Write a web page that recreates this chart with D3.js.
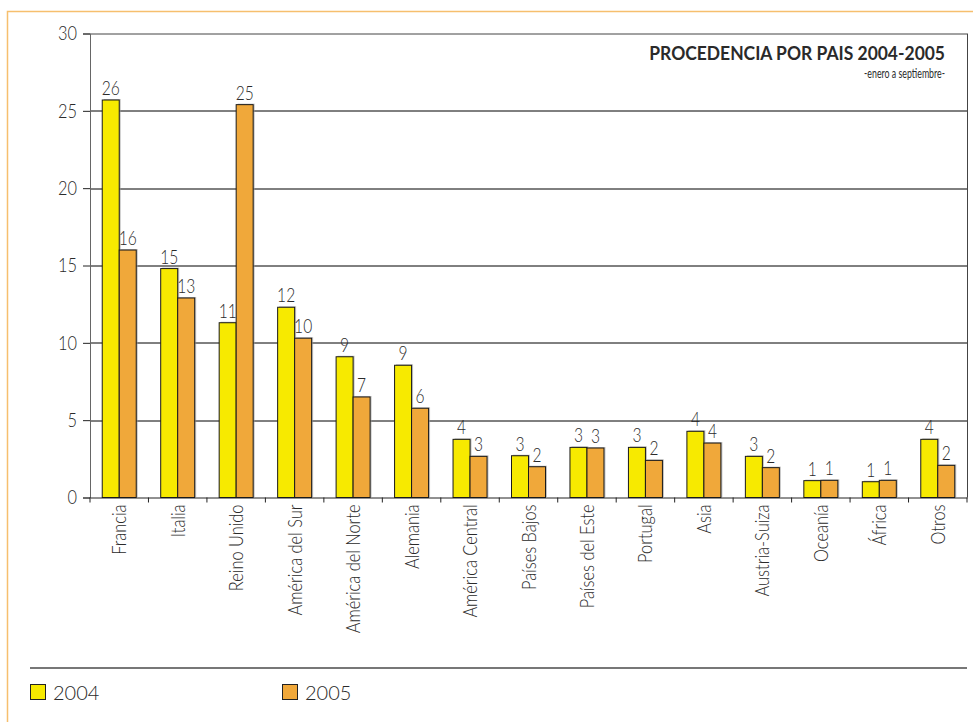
<!DOCTYPE html>
<html>
<head>
<meta charset="utf-8">
<title>Procedencia por país 2004-2005</title>
<script src="https://cdn.jsdelivr.net/npm/d3@7"></script>
<style>
  body { margin: 0; background: #ffffff; }
  text { font-family: Lato, "Open Sans", sans-serif; font-weight: 300; fill: #2a2a2a; }
</style>
</head>
<body>
<div id="chart"></div>
<script>
/** Chart data */
var categories = ["Francia", "Italia", "Reino Unido", "América del Sur", "América del Norte", "Alemania",
  "América Central", "Países Bajos", "Países del Este", "Portugal", "Asia", "Austria-Suiza",
  "Oceanía", "África", "Otros"];
var years = ["2004", "2005"];
var values2004 = [25.7, 14.8, 11.3, 12.3, 9.1, 8.55, 3.76, 2.7, 3.24, 3.24, 4.28, 2.66, 1.09, 1.02, 3.76];
var values2005 = [16.0, 12.9, 25.4, 10.3, 6.5, 5.77, 2.66, 1.99, 3.2, 2.4, 3.52, 1.93, 1.11, 1.11, 2.08];
var yTicks = [0, 5, 10, 15, 20, 25, 30];
var seriesColors = ["#f7ea00", "#f0a83a"];
var titleText = "PROCEDENCIA POR PAIS 2004-2005";
var subtitleText = "-enero a septiembre-";

/** horizontal squeeze used to mimic the condensed face of the original */
var SQUEEZE = 0.82;

/**
 * @desc Squeezes text along its writing direction, keeping its anchor point.
 * @param {Object} sel d3 selection of text nodes.
 * @param {String} rotation optional rotation applied before the squeeze.
 */
function condense(sel, rotation)
{
  sel.each(function()
  {
    var t = d3.select(this);
    var x = +t.attr("x") || 0;
    t.attr("x", x / SQUEEZE)
      .attr("transform", (rotation || "") + " scale(" + SQUEEZE + ",1)");
  });
}

/**
 * @constructor
 * @param {String} HTMLelement id of the element to build the chart in.
 */
var groupedBarChart = function(HTMLelement)
{
  this.parentElement = HTMLelement;
  this.svg = this.g = this.x0 = this.x1 = this.y = undefined;
  this.width = 973;
  this.height = 722;
  this.margin = {top: 33.5, right: 6, bottom: 224.5, left: 90};
}

/**
 * @desc Builds the svg, the outer frame and the scales.
 */
groupedBarChart.prototype.create = function()
{
  this.svg = d3.select("#" + this.parentElement)
    .append("svg")
    .attr("width", this.width)
    .attr("height", this.height);

  /** Light orange frame around the whole figure */
  this.svg.append("rect")
    .attr("x", 7.5)
    .attr("y", 11.5)
    .attr("width", 1000)
    .attr("height", 1000)
    .attr("fill", "none")
    .attr("stroke", "#f6bf6e")
    .attr("stroke-width", 1.5);

  this.innerW = this.width - this.margin.left - this.margin.right;
  this.innerH = this.height - this.margin.top - this.margin.bottom;

  this.x0 = d3.scaleBand().domain(categories).range([0, this.innerW]).padding(0);
  this.x1 = d3.scaleBand().domain(years).range([0, this.x0.bandwidth()]).paddingInner(0).paddingOuter(0.72);
  this.y = d3.scaleLinear().domain([0, 30]).range([this.innerH, 0]);

  this.g = this.svg.append("g")
    .attr("transform", "translate(" + this.margin.left + "," + this.margin.top + ")");
}

/**
 * @desc Draws grid, axes and the plot border.
 */
groupedBarChart.prototype.drawAxes = function()
{
  var scope = this;

  /** Horizontal grid lines */
  this.g.append("g")
    .selectAll("line")
    .data(yTicks.filter(function(d) { return d > 0; }))
    .enter().append("line")
      .attr("x1", 0)
      .attr("x2", this.innerW)
      .attr("y1", function(d) { return Math.round(scope.y(d)) + 0.5; })
      .attr("y2", function(d) { return Math.round(scope.y(d)) + 0.5; })
      .attr("stroke", function(d) { return d == 30 ? "#444" : "#000"; })
      .attr("stroke-width", 1);

  /** Right border of the plot */
  this.g.append("line")
    .attr("x1", this.innerW + 0.5)
    .attr("x2", this.innerW + 0.5)
    .attr("y1", this.y(30))
    .attr("y2", this.innerH)
    .attr("stroke", "#444");

  /** Y axis */
  var yAxis = this.g.append("g")
    .call(d3.axisLeft(this.y).tickValues(yTicks).tickSize(7).tickPadding(6));
  yAxis.select(".domain").attr("stroke", "#666");
  yAxis.selectAll(".tick line").attr("stroke", "#222");
  yAxis.selectAll("text")
    .style("font-size", "20px")
    .attr("fill", "#2a2a2a")
    .call(condense);

  /** X axis: labels at band centres, ticks at band boundaries */
  var xAxis = this.g.append("g")
    .attr("transform", "translate(0," + this.innerH + ")")
    .call(d3.axisBottom(this.x0).tickSize(0).tickPadding(0));
  xAxis.select(".domain").attr("stroke", "#222");
  xAxis.selectAll("text")
    .style("font-size", "20px")
    .attr("fill", "#2a2a2a")
    .attr("text-anchor", "end")
    .attr("x", -7)
    .attr("y", 0)
    .attr("dy", "0.35em")
    .call(condense, "rotate(-90)");

  var bounds = categories.map(function(c) { return scope.x0(c); }).concat([this.innerW]);
  xAxis.selectAll(".bound")
    .data(bounds)
    .enter().append("line")
      .attr("class", "bound")
      .attr("x1", function(d) { return d; })
      .attr("x2", function(d) { return d; })
      .attr("y1", 0)
      .attr("y2", 5)
      .attr("stroke", "#222");
}

/**
 * @desc Draws the two bar series with their value labels.
 */
groupedBarChart.prototype.drawBars = function()
{
  var scope = this;
  var series = [values2004, values2005];
  var rows = [];
  categories.forEach(function(c, i)
  {
    years.forEach(function(yr, j)
    {
      rows.push({category: c, year: yr, value: series[j][i], color: seriesColors[j]});
    });
  });

  var bars = this.g.append("g")
    .selectAll("g")
    .data(rows)
    .enter().append("g")
      .attr("transform", function(d) { return "translate(" + (scope.x0(d.category) + scope.x1(d.year)) + ",0)"; });

  /** soft shadow behind each bar */
  bars.append("rect")
    .attr("x", 1.5)
    .attr("y", function(d) { return scope.y(d.value) - 1; })
    .attr("width", this.x1.bandwidth())
    .attr("height", function(d) { return scope.innerH - scope.y(d.value) + 1; })
    .attr("fill", "#9a9a9a")
    .attr("opacity", 0.6);

  bars.append("rect")
    .attr("x", 0)
    .attr("y", function(d) { return scope.y(d.value); })
    .attr("width", this.x1.bandwidth())
    .attr("height", function(d) { return scope.innerH - scope.y(d.value); })
    .attr("fill", function(d) { return d.color; })
    .attr("stroke", "#1a1a1a")
    .attr("stroke-width", 1);

  bars.append("g")
    .attr("transform", function(d) { return "translate(" + (scope.x1.bandwidth() / 2) + "," + (scope.y(d.value) - 5) + ")"; })
    .append("text")
      .attr("text-anchor", "middle")
      .attr("fill", "#2a2a2a")
      .style("font-size", "19px")
      .text(function(d) { return Math.round(d.value); })
      .call(condense);
}

/**
 * @desc Adds right-aligned text squeezed to a given width.
 */
groupedBarChart.prototype.fittedText = function(str, xRight, yBase, size, weight, targetW)
{
  var holder = this.svg.append("g")
    .attr("transform", "translate(" + xRight + "," + yBase + ")");
  var t = holder.append("text")
    .attr("text-anchor", "end")
    .style("font-size", size + "px")
    .style("font-weight", weight)
    .attr("fill", "#111")
    .text(str);
  var k = targetW / t.node().getComputedTextLength();
  t.attr("transform", "scale(" + k + ",1)");
}

/**
 * @desc Title block in the upper right corner.
 */
groupedBarChart.prototype.drawTitle = function()
{
  this.fittedText(titleText, 945, 60, 18, "bold", 296);
  this.fittedText(subtitleText, 945, 78, 14, "normal", 81);
}

/**
 * @desc Legend under a grey rule at the bottom.
 */
groupedBarChart.prototype.drawLegend = function()
{
  this.svg.append("line")
    .attr("x1", 30)
    .attr("x2", 967)
    .attr("y1", 668)
    .attr("y2", 668)
    .attr("stroke", "#777")
    .attr("stroke-width", 2);

  var legendX = [30, 282];
  var items = this.svg.append("g")
    .selectAll("g")
    .data(years)
    .enter().append("g")
      .attr("transform", function(d, i) { return "translate(" + legendX[i] + ",684)"; });

  items.append("rect")
    .attr("x", 0.5)
    .attr("y", 0.5)
    .attr("width", 15)
    .attr("height", 15)
    .attr("fill", function(d, i) { return seriesColors[i]; })
    .attr("stroke", "#222");

  items.append("text")
    .attr("x", 23)
    .attr("y", 15.5)
    .style("font-size", "20px")
    .attr("fill", "#222")
    .text(function(d) { return d; });
}

var chart = new groupedBarChart("chart");
chart.create();
chart.drawAxes();
chart.drawBars();
chart.drawTitle();
chart.drawLegend();
</script>
</body>
</html>
